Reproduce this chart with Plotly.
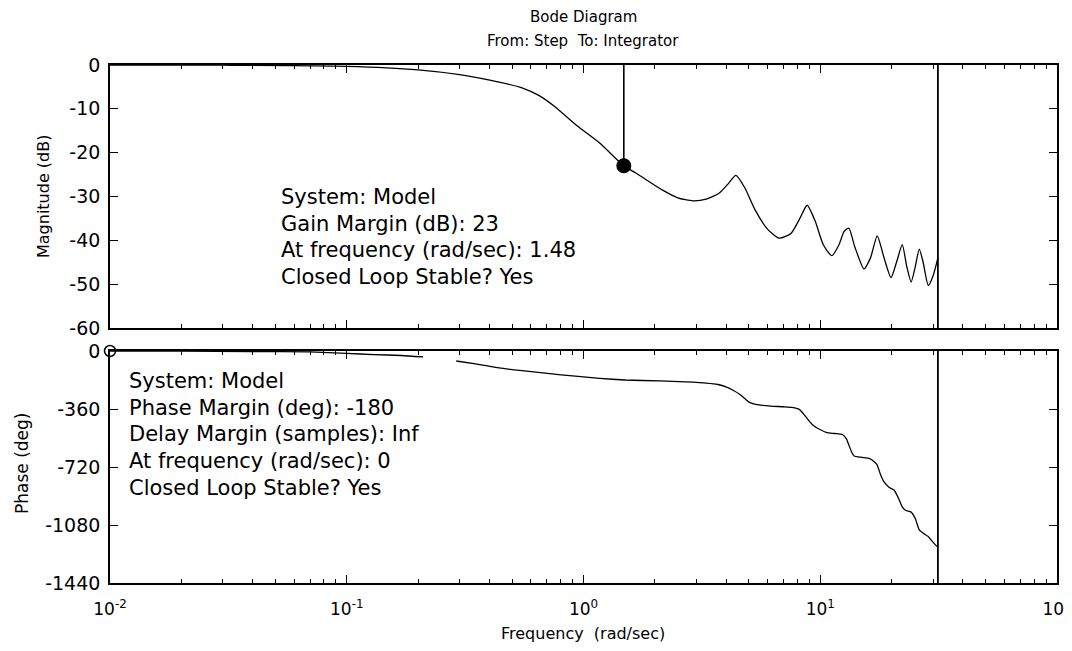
import plotly.graph_objects as go

# ---------------- data ----------------
mag_freq = [0.01, 0.03, 0.1, 0.2, 0.3, 0.44, 0.55, 0.65, 0.76, 0.93, 1.17, 1.48, 1.67, 2.15, 2.5, 2.9,
            3.3, 3.75, 4.1, 4.4, 4.8, 5.3, 6.0, 6.7, 7.5, 8.2, 8.8, 9.5, 10.3, 11.2, 12.0,
            12.6, 13.2, 14.0, 15.3, 16.3, 17.4, 18.6, 19.9, 21.0, 22.2, 23.2, 24.2, 25.2,
            26.2, 27.2, 28.6, 30.0, 31.4]
mag_db = [0.0, -0.05, -0.3, -1.1, -2.2, -3.9, -5.2, -7.0, -9.6, -13.7, -17.8, -23.0, -24.7, -28.5, -30.3, -31.0,
          -30.6, -29.2, -27.0, -25.2, -28.0, -33.0, -37.5, -39.5, -38.5, -35.0, -32.0, -35.5, -41.0, -43.5, -41.0,
          -38.0, -37.2, -41.5, -46.5, -44.0, -39.0, -44.0, -48.5, -45.0, -41.0, -46.0, -49.5, -46.0,
          -42.0, -45.0, -50.3, -48.0, -44.0]

phase_freq = [0.01, 0.02, 0.04, 0.07, 0.1, 0.13, 0.17, 0.21, None,
              0.29, 0.35, 0.44, 0.55, 0.72, 0.9, 1.17, 1.5, 2.1, 2.7, 3.3, 3.7, 4.0, 4.3, 4.55, 4.8,
              5.0, 5.5, 6.2, 7.0, 7.6, 8.15, 8.5, 8.9, 9.3, 9.7, 10.6, 11.5, 12.4, 12.9, 13.2,
              13.6, 13.9, 15.0, 16.1, 17.0, 17.4, 18.0, 18.6, 19.5, 20.5, 21.5, 22.2, 23.0, 24.2,
              25.2, 26.2, 27.5, 28.5, 29.4, 30.5, 31.4]
phase_deg = [0, -1, -3, -6, -15, -22, -28, -37, None,
             -62, -80, -105, -122, -140, -155, -170, -180, -186, -192, -199, -208, -223, -245, -267, -295,
             -317, -335, -342, -346, -350, -362, -390, -428, -460, -478, -505, -512, -518, -545, -583,
             -630, -652, -660, -666, -690, -708, -770, -813, -845, -863, -920, -968, -990, -1000,
             -1040, -1111, -1136, -1150, -1173, -1200, -1217]

nyquist_freq = 31.4
gm_freq = 1.48
gm_db = -23.0
pm_freq = 0.01
pm_deg = 0.0

x_tickvals = [0.01, 0.1, 1, 10, 100]
x_ticktext = ["10<sup>-2</sup>", "10<sup>-1</sup>", "10<sup>0</sup>", "10<sup>1</sup>", "10<sup>2</sup>"]
mag_ticks = [0, -10, -20, -30, -40, -50, -60]
mag_ticktext = ["0", "-10", "-20", "-30", "-40", "-50", "-60"]
phase_ticks = [0, -360, -720, -1080, -1440]
phase_ticktext = ["0", "-360", "-720", "-1080", "-1440"]

gm_text = ["System: Model", "Gain Margin (dB): 23", "At frequency (rad/sec): 1.48", "Closed Loop Stable? Yes"]
pm_text = ["System: Model", "Phase Margin (deg): -180", "Delay Margin (samples): Inf",
           "At frequency (rad/sec): 0", "Closed Loop Stable? Yes"]

# ---------------- layout geometry (page pixels; page body has an 8px margin) ----------------
OFF = 8
W, H = 1072 - OFF, 651 - OFF
PLOT_L, PLOT_R, PLOT_T, PLOT_B = 110, 1057, 65, 583      # page pixel coords of plotting area
ML, MR = PLOT_L - OFF, (1072 - OFF) - (PLOT_R - OFF)
MT, MB = PLOT_T - OFF, (651 - OFF) - (PLOT_B - OFF)
PW, PH = PLOT_R - PLOT_L, PLOT_B - PLOT_T


def px(xp):
    return (xp - PLOT_L) / PW


def py(yp):
    return 1 - (yp - PLOT_T) / PH


FONT = "DejaVu Sans"
BLACK = "#000000"

fig = go.Figure()

# magnitude
fig.add_trace(go.Scatter(x=mag_freq, y=mag_db, mode="lines",
                         line=dict(color=BLACK, width=1.3, shape="spline", smoothing=0.6),
                         xaxis="x", yaxis="y", showlegend=False))
# nyquist lines
fig.add_trace(go.Scatter(x=[nyquist_freq, nyquist_freq], y=[mag_ticks[-1], mag_ticks[0]], mode="lines",
                         line=dict(color=BLACK, width=1.8), xaxis="x", yaxis="y", showlegend=False))
fig.add_trace(go.Scatter(x=[nyquist_freq, nyquist_freq], y=[phase_ticks[-1], phase_ticks[0]], mode="lines",
                         line=dict(color=BLACK, width=1.8), xaxis="x2", yaxis="y2", showlegend=False))
# gain margin stem + marker
fig.add_trace(go.Scatter(x=[gm_freq, gm_freq], y=[0, gm_db], mode="lines",
                         line=dict(color=BLACK, width=1.6), xaxis="x", yaxis="y", showlegend=False))
fig.add_trace(go.Scatter(x=[gm_freq], y=[gm_db], mode="markers",
                         marker=dict(color=BLACK, size=15, line=dict(width=0)),
                         xaxis="x", yaxis="y", showlegend=False, cliponaxis=False))
# phase
fig.add_trace(go.Scatter(x=phase_freq, y=phase_deg, mode="lines",
                         line=dict(color=BLACK, width=1.3, shape="spline", smoothing=0.5),
                         xaxis="x2", yaxis="y2", showlegend=False, connectgaps=False))
fig.add_trace(go.Scatter(x=[pm_freq], y=[pm_deg], mode="markers",
                         marker=dict(color="rgba(0,0,0,0)", size=11, line=dict(color=BLACK, width=1.5)),
                         xaxis="x2", yaxis="y2", showlegend=False, cliponaxis=False))

axis_common = dict(showline=True, linecolor=BLACK, linewidth=1.6, mirror="ticks", ticks="inside",
                   ticklen=8, tickwidth=1.3, tickcolor=BLACK, showgrid=False, zeroline=False,
                   automargin=False, tickfont=dict(family=FONT, size=19, color=BLACK))

xaxis_common = dict(axis_common, type="log", range=[-2, 2], tickvals=x_tickvals,
                    tickfont=dict(family=FONT, size=17, color=BLACK),
                    minor=dict(ticks="inside", ticklen=4, tickwidth=1.2, tickcolor=BLACK,
                               dtick="D1", showgrid=False))

fig.update_layout(
    width=W, height=H,
    margin=dict(l=ML, r=MR, t=MT, b=MB, pad=0, autoexpand=False),
    paper_bgcolor="white", plot_bgcolor="white",
    font=dict(family=FONT, color=BLACK),
    xaxis=dict(xaxis_common, domain=[0, 1], anchor="y", matches="x2", showticklabels=False),
    yaxis=dict(axis_common, domain=[py(328), 1], anchor="x", range=[-60, 0], tickvals=mag_ticks,
               ticktext=mag_ticktext, ticklabelstandoff=4),
    xaxis2=dict(xaxis_common, domain=[0, 1], anchor="y2", ticktext=x_ticktext, ticklabelstandoff=10),
    yaxis2=dict(axis_common, domain=[0, py(351)], anchor="x2", range=[-1440, 0], tickvals=phase_ticks,
                ticktext=phase_ticktext, ticklabelstandoff=4),
)

ann = []
# titles
ann.append(dict(text="Bode Diagram", x=px(583), y=py(17), xref="paper", yref="paper",
                xanchor="center", yanchor="middle", showarrow=False, font=dict(family=FONT, size=15)))
ann.append(dict(text="From: Step\u00a0\u00a0To: Integrator", x=px(583), y=py(41), xref="paper", yref="paper",
                xanchor="center", yanchor="middle", showarrow=False, font=dict(family=FONT, size=15)))
ann.append(dict(text="Frequency\u00a0\u00a0(rad/sec)", x=px(583), y=py(633), xref="paper", yref="paper",
                xanchor="center", yanchor="middle", showarrow=False, font=dict(family=FONT, size=16)))
ann.append(dict(text="Magnitude (dB)", x=px(44), y=py(197), xref="paper", yref="paper", textangle=-90,
                xanchor="center", yanchor="middle", showarrow=False, font=dict(family=FONT, size=16)))
ann.append(dict(text="Phase (deg)", x=px(22), y=py(464), xref="paper", yref="paper", textangle=-90,
                xanchor="center", yanchor="middle", showarrow=False, font=dict(family=FONT, size=17)))
# margin texts
for i, t in enumerate(gm_text):
    ann.append(dict(text=t, x=px(279), y=py(197 + i * 26.7), xref="paper", yref="paper",
                    xanchor="left", yanchor="middle", showarrow=False, font=dict(family=FONT, size=21)))
for i, t in enumerate(pm_text):
    ann.append(dict(text=t, x=px(127), y=py(381 + i * 26.7), xref="paper", yref="paper",
                    xanchor="left", yanchor="middle", showarrow=False, font=dict(family=FONT, size=21)))
fig.update_layout(annotations=ann)

fig.write_html("out.html")
